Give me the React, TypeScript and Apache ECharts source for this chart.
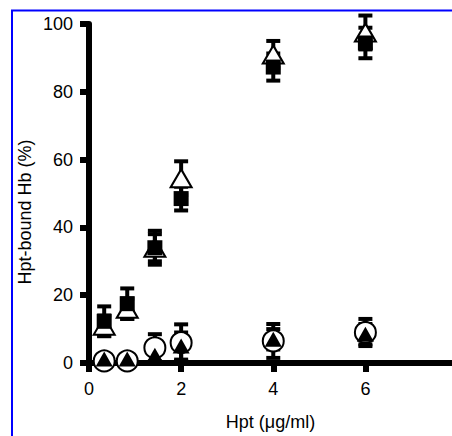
import React, { useEffect, useRef } from "react";
import * as echarts from "echarts";

const xValues = [0.33, 0.83, 1.43, 2, 4, 6];
const filledSquare = [12.3, 17.5, 34, 48.5, 87.3, 94.4];
const filledSquareErr = [4.4, 4.5, 5, 3.5, 4, 4.5];
const openTriangle = [11, 16, 34, 54.5, 91, 97.5];
const openTriangleErr = [3, 3, 4, 5, 4, 5];
const openCircle = [0.6, 0.6, 4.5, 6, 6.5, 9];
const openCircleErr = [0, 0, 4, 5.4, 5, 4];
const filledTriangle = [1.2, 1.2, 2.3, 5, 7, 8.5];
const filledTriangleErr = [0, 0, 2, 4, 3, 3];
const xTicks = [0, 2, 4, 6];
const yTicks = [0, 20, 40, 60, 80, 100];

const FONT = "'Liberation Sans', Arial, Helvetica, sans-serif";

function pts(ys: number[]) {
  return xValues.map((x, i) => [x, ys[i]]);
}
function errPts(ys: number[], es: number[]) {
  return xValues.map((x, i) => [x, ys[i], es[i]]);
}

function errorSeries(ys: number[], es: number[]) {
  return {
    type: "custom",
    data: errPts(ys, es),
    clip: false,
    silent: true,
    z: 2,
    renderItem: (params: any, api: any) => {
      const x = api.value(0);
      const y = api.value(1);
      const e = api.value(2);
      if (!e) return { type: "group", children: [] };
      const top = api.coord([x, y + e]);
      const bot = api.coord([x, Math.max(0, y - e)]);
      const cw = 14;
      const st = { stroke: "#000", lineWidth: 4 };
      return {
        type: "group",
        children: [
          { type: "line", shape: { x1: top[0], y1: top[1], x2: bot[0], y2: bot[1] }, style: st },
          { type: "line", shape: { x1: top[0] - cw / 2, y1: top[1], x2: top[0] + cw / 2, y2: top[1] }, style: st },
          { type: "line", shape: { x1: bot[0] - cw / 2, y1: bot[1], x2: bot[0] + cw / 2, y2: bot[1] }, style: st },
        ],
      };
    },
  };
}

export default function App() {
  const ref = useRef<HTMLDivElement>(null);
  useEffect(() => {
    if (!ref.current) return;
    const chart = echarts.init(ref.current, undefined, { renderer: "svg" });
    chart.setOption({
      animation: false,
      backgroundColor: "#fff",
      grid: { left: 89, right: 0, top: 24, bottom: 70, containLabel: false },
      xAxis: {
        type: "value",
        min: 0,
        max: 7.88,
        interval: 2,
        name: "Hpt (\u03bcg/ml)",
        nameLocation: "middle",
        nameGap: 50,
        nameTextStyle: { fontFamily: FONT, fontSize: 18, color: "#000" },
        axisLine: { show: true, lineStyle: { color: "#000", width: 6 } },
        axisTick: { show: true, length: 9, lineStyle: { color: "#000", width: 6 }, customValues: xTicks },
        axisLabel: { fontFamily: FONT, fontSize: 18, color: "#000", margin: 17, customValues: xTicks },
        splitLine: { show: false },
      },
      yAxis: {
        type: "value",
        min: 0,
        max: 100,
        interval: 20,
        axisLine: { show: true, lineStyle: { color: "#000", width: 6 } },
        axisTick: { show: true, length: 9, lineStyle: { color: "#000", width: 6 }, customValues: yTicks },
        axisLabel: { fontFamily: FONT, fontSize: 18, color: "#000", margin: 16, customValues: yTicks },
        splitLine: { show: false },
      },
      graphic: [
        {
          type: "rect",
          shape: { x: 12, y: 10.5, width: 600, height: 600 },
          style: { fill: "none", stroke: "#0000ff", lineWidth: 2 },
          silent: true,
          z: 100,
        },
        {
          type: "text",
          x: 25,
          y: 212,
          rotation: Math.PI / 2,
          style: {
            text: "Hpt-bound Hb (%)",
            fontFamily: FONT,
            fontSize: 18,
            fill: "#000",
            align: "center",
            verticalAlign: "middle",
          },
        },
      ],
      series: [
        errorSeries(openCircle, openCircleErr),
        errorSeries(filledTriangle, filledTriangleErr),
        errorSeries(openTriangle, openTriangleErr),
        errorSeries(filledSquare, filledSquareErr),
        {
          type: "scatter",
          name: "open circle",
          data: pts(openCircle),
          symbol: "circle",
          symbolSize: 21,
          itemStyle: { color: "#fff", borderColor: "#000", borderWidth: 2, opacity: 1 },
          z: 3,
        },
        {
          type: "scatter",
          name: "filled triangle",
          data: pts(filledTriangle),
          symbol: "triangle",
          symbolSize: [17, 15],
          itemStyle: { color: "#000", opacity: 1 },
          z: 4,
        },
        {
          type: "scatter",
          name: "open triangle",
          data: pts(openTriangle),
          symbol: "triangle",
          symbolSize: [21, 18],
          itemStyle: { color: "#fff", borderColor: "#000", borderWidth: 2, opacity: 1 },
          z: 5,
        },
        {
          type: "scatter",
          name: "filled square",
          data: pts(filledSquare),
          symbol: "rect",
          symbolSize: [15, 15],
          itemStyle: { color: "#000", opacity: 1 },
          z: 6,
        },
      ],
    });
    return () => chart.dispose();
  }, []);
  return (
    <div
      ref={ref}
      style={{ position: "fixed", left: 0, top: 0, width: 452, height: 436, background: "#fff" }}
    />
  );
}
